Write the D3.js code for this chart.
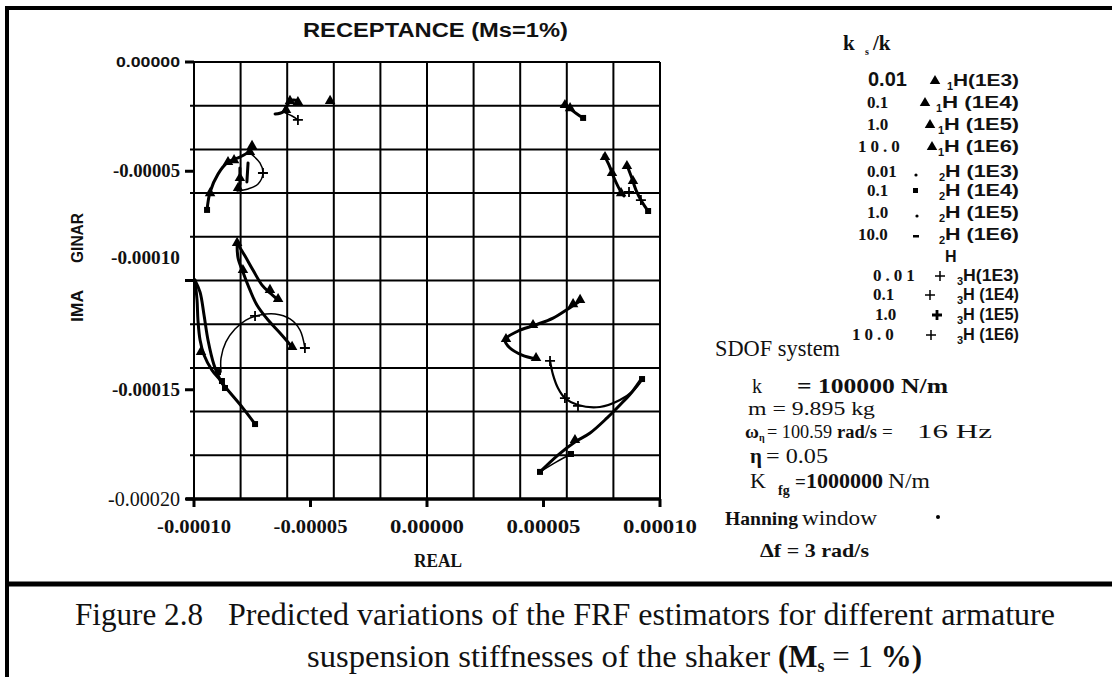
<!DOCTYPE html>
<html>
<head>
<meta charset="utf-8">
<script src="https://cdn.jsdelivr.net/npm/d3@7"></script>
<style>
  body { margin: 0; background: #fff; }
  svg { display: block; }
  text { fill: #111; }
</style>
</head>
<body>
<div id="chart"></div>
<script>
// Receptance (Ms=1%) - real vs imaginary part of the FRF estimators

// Axis ticks
const xTickValues = [-0.0001, -0.00005, 0, 0.00005, 0.0001];
const xTickLabels = ["-0.00010", "-0.00005", "0.00000", "0.00005", "0.00010"];
const yTickValues = [0, -0.00005, -0.0001, -0.00015, -0.0002];
const yTickLabels = ["0.00000", "-0.00005", "-0.00010", "-0.00015", "-0.00020"];

// Legend
const ratioLabels = ["0.01", "0.1", "1.0", "10.0"];
const estimators = ["1", "2", "3"];
const blockLabels = ["(1E3)", "(1E4)", "(1E5)", "(1E6)"];

// Curves, [real, imaginary]
const topLeftA = [[-6.52e-5, -2.38e-5], [-6.18e-5, -2.29e-5], [-5.97e-5, -1.92e-5], [-5.75e-5, -1.74e-5], [-5.54e-5, -1.78e-5]];
const topLeftB = [[-6.09e-5, -2.33e-5], [-5.79e-5, -2.47e-5], [-5.54e-5, -2.65e-5]];
const topRight = [[5.79e-5, -2.01e-5], [6.01e-5, -2.01e-5], [6.22e-5, -2.20e-5], [6.44e-5, -2.38e-5], [6.70e-5, -2.56e-5]];

const midLeftH1 = [[-9.44e-5, -6.77e-5], [-9.31e-5, -5.95e-5], [-8.97e-5, -5.13e-5], [-8.54e-5, -4.58e-5], [-8.03e-5, -4.35e-5], [-7.68e-5, -4.12e-5], [-7.51e-5, -3.84e-5]];
const midLeftH3 = [[-7.60e-5, -4.16e-5], [-7.17e-5, -4.62e-5], [-7.04e-5, -5.08e-5], [-7.25e-5, -5.58e-5], [-7.68e-5, -5.81e-5], [-8.15e-5, -5.90e-5]];
const midLeftStubA = [[-8.03e-5, -4.85e-5], [-8.03e-5, -5.58e-5]];
const midLeftStubB = [[-7.68e-5, -4.62e-5], [-7.73e-5, -5.49e-5]];

const lowLeftH1a = [[-8.15e-5, -8.28e-5], [-7.81e-5, -8.88e-5], [-7.47e-5, -9.52e-5], [-7.08e-5, -10.21e-5], [-6.74e-5, -10.57e-5], [-6.39e-5, -10.89e-5]];
const lowLeftH1b = [[-8.15e-5, -8.28e-5], [-8.11e-5, -8.97e-5], [-7.90e-5, -9.61e-5], [-7.60e-5, -10.43e-5], [-7.30e-5, -11.12e-5], [-6.82e-5, -11.81e-5], [-6.31e-5, -12.40e-5], [-5.79e-5, -13.04e-5]];
const lowLeftH3 = [[-5.24e-5, -13.09e-5], [-5.45e-5, -12.27e-5], [-5.88e-5, -11.76e-5], [-6.52e-5, -11.53e-5], [-7.17e-5, -11.58e-5], [-7.77e-5, -11.81e-5], [-8.24e-5, -12.22e-5], [-8.63e-5, -12.81e-5], [-8.84e-5, -13.55e-5], [-8.84e-5, -14.19e-5]];
const lowLeftH2a = [[-9.96e-5, -9.98e-5], [-9.87e-5, -10.89e-5], [-9.83e-5, -11.81e-5], [-9.74e-5, -12.72e-5], [-9.57e-5, -13.41e-5], [-9.23e-5, -14.10e-5], [-8.88e-5, -14.55e-5], [-8.67e-5, -14.92e-5]];
const lowLeftH2b = [[-9.96e-5, -9.98e-5], [-9.74e-5, -10.53e-5], [-9.57e-5, -11.58e-5], [-9.40e-5, -12.72e-5], [-9.14e-5, -13.87e-5], [-8.88e-5, -14.55e-5]];
const lowLeftTail = [[-8.80e-5, -14.69e-5], [-8.37e-5, -15.24e-5], [-7.90e-5, -15.84e-5], [-7.38e-5, -16.57e-5]];

const midRightA = [[7.60e-5, -4.26e-5], [7.81e-5, -4.71e-5], [8.03e-5, -5.31e-5], [8.28e-5, -5.86e-5], [8.45e-5, -6.13e-5]];
const midRightB = [[8.58e-5, -4.71e-5], [8.76e-5, -5.22e-5], [8.97e-5, -5.86e-5], [9.23e-5, -6.41e-5], [9.49e-5, -6.82e-5]];

const lowRightH1 = [[6.57e-5, -10.94e-5], [6.05e-5, -11.30e-5], [5.41e-5, -11.72e-5], [4.64e-5, -12.04e-5], [3.91e-5, -12.31e-5], [3.35e-5, -12.72e-5], [3.56e-5, -13.09e-5], [4.08e-5, -13.41e-5], [4.68e-5, -13.59e-5]];
const lowRightH3 = [[5.28e-5, -13.68e-5], [5.41e-5, -14.32e-5], [5.62e-5, -14.92e-5], [5.92e-5, -15.38e-5], [6.48e-5, -15.70e-5], [7.42e-5, -15.79e-5], [8.28e-5, -15.47e-5], [8.84e-5, -15.06e-5], [9.23e-5, -14.55e-5]];
const lowRightH2 = [[9.23e-5, -14.46e-5], [8.80e-5, -15.10e-5], [8.28e-5, -15.70e-5], [7.73e-5, -16.29e-5], [7.00e-5, -16.98e-5], [6.35e-5, -17.39e-5], [5.62e-5, -17.99e-5], [4.85e-5, -18.76e-5]];
const lowRightBack = [[4.85e-5, -18.76e-5], [5.54e-5, -18.31e-5], [6.18e-5, -17.94e-5]];

// Markers
const triangles = [[-5.88e-5, -1.78e-5], [-5.54e-5, -1.83e-5], [-6.05e-5, -2.20e-5], [-4.16e-5, -1.78e-5],
  [5.92e-5, -1.97e-5], [6.14e-5, -2.11e-5],
  [-9.31e-5, -6.00e-5], [-8.54e-5, -4.58e-5], [-8.28e-5, -4.49e-5], [-7.51e-5, -3.84e-5], [-7.60e-5, -4.12e-5], [-8.03e-5, -5.31e-5], [-8.11e-5, -5.77e-5],
  [-8.15e-5, -8.28e-5], [-7.90e-5, -9.52e-5], [-6.74e-5, -10.43e-5], [-6.39e-5, -10.85e-5], [-5.79e-5, -13.04e-5], [-9.70e-5, -13.27e-5],
  [7.64e-5, -4.35e-5], [7.94e-5, -5.08e-5], [8.33e-5, -6.00e-5], [8.58e-5, -4.76e-5], [8.84e-5, -5.45e-5],
  [6.57e-5, -10.89e-5], [6.27e-5, -11.08e-5], [4.55e-5, -12.04e-5], [4.68e-5, -13.55e-5], [3.39e-5, -12.68e-5], [6.35e-5, -17.30e-5]];
const squares = [[6.70e-5, -2.56e-5], [-9.44e-5, -6.77e-5], [-8.97e-5, -14.19e-5], [-8.80e-5, -14.60e-5], [-8.67e-5, -14.92e-5],
  [-7.38e-5, -16.57e-5], [9.49e-5, -6.82e-5], [4.85e-5, -18.76e-5], [6.18e-5, -17.94e-5], [9.23e-5, -14.51e-5]];
const pluses = [[-5.54e-5, -2.65e-5], [-7.04e-5, -5.08e-5], [-5.24e-5, -13.09e-5], [-7.38e-5, -11.62e-5],
  [8.67e-5, -5.95e-5], [9.18e-5, -6.32e-5], [5.28e-5, -13.68e-5], [5.92e-5, -15.38e-5], [6.48e-5, -15.74e-5]];

const thickCurves = [topLeftA, topRight, midLeftH1, midLeftStubA, midLeftStubB, lowLeftH1a, lowLeftH1b,
  lowLeftH2a, lowLeftH2b, lowLeftTail, midRightA, midRightB, lowRightH1, lowRightH2];
const thinCurves = [topLeftB, midLeftH3, lowLeftH3, lowRightBack];
const mediumCurves = [lowRightH3];

const W = 1112, H = 677;
const serif = "'Liberation Serif', 'Times New Roman', serif";
const sans = "'Liberation Sans', Arial, sans-serif";

const svg = d3.select("#chart").append("svg")
    .attr("width", W)
    .attr("height", H);

function addText(g, px, py, str, o) {
    const t = g.append("text")
        .attr("x", px)
        .attr("y", py)
        .attr("font-family", o.sans ? sans : serif)
        .attr("font-size", o.size)
        .attr("font-weight", o.bold ? "bold" : "normal")
        .attr("text-anchor", o.anchor || "start")
        .text(str);
    if (o.len) t.attr("textLength", o.len).attr("lengthAdjust", "spacingAndGlyphs");
    if (o.ls) t.attr("letter-spacing", o.ls);
    return t;
}

// Page frame
svg.append("line").attr("x1", 5).attr("x2", W).attr("y1", 8).attr("y2", 8).attr("stroke", "#000").attr("stroke-width", 4);
svg.append("line").attr("x1", 7).attr("x2", 7).attr("y1", 6).attr("y2", H).attr("stroke", "#000").attr("stroke-width", 4);
svg.append("line").attr("x1", 5).attr("x2", W).attr("y1", 584).attr("y2", 584).attr("stroke", "#000").attr("stroke-width", 5);

// Scales
const x = d3.scaleLinear().domain([-0.0001, 0.0001]).range([194, 660]);
const y = d3.scaleLinear().domain([-0.0002, 0]).range([499, 62]);

const plot = svg.append("g");

// Grid
plot.selectAll(".vgrid")
    .data(x.ticks(8))
    .join("line")
    .attr("class", "vgrid")
    .attr("x1", d => x(d)).attr("x2", d => x(d))
    .attr("y1", y.range()[1]).attr("y2", y.range()[0])
    .attr("stroke", "#000").attr("stroke-width", 2);

plot.selectAll(".hgrid")
    .data(y.ticks(8))
    .join("line")
    .attr("class", "hgrid")
    .attr("x1", x.range()[0] - 4).attr("x2", x.range()[1])
    .attr("y1", d => y(d)).attr("y2", d => y(d))
    .attr("stroke", "#000").attr("stroke-width", 2);

// Bottom axis
plot.append("line")
    .attr("x1", x.range()[0] - 8).attr("x2", x.range()[1] + 1)
    .attr("y1", y(-0.0002)).attr("y2", y(-0.0002))
    .attr("stroke", "#000").attr("stroke-width", 3.5);

plot.selectAll(".xtick")
    .data(xTickValues)
    .join("line")
    .attr("class", "xtick")
    .attr("x1", d => x(d)).attr("x2", d => x(d))
    .attr("y1", y(-0.0002)).attr("y2", y(-0.0002) + 8)
    .attr("stroke", "#000").attr("stroke-width", 3);

plot.selectAll(".ytick")
    .data(yTickValues)
    .join("line")
    .attr("class", "ytick")
    .attr("x1", x.range()[0] - 9).attr("x2", x.range()[0])
    .attr("y1", d => y(d)).attr("y2", d => y(d))
    .attr("stroke", "#000").attr("stroke-width", 3);

// Tick labels
const yLabelStyle = [
    { sans: true, bold: true, size: 15, len: 64, dy: 5 },
    { bold: true, size: 18, len: 67, dy: 6 },
    { bold: true, size: 18, len: 69, dy: -17 },
    { bold: true, size: 18, len: 68, dy: 6 },
    { bold: false, size: 20, len: 72, dy: 7 }
];
yTickValues.forEach((v, i) => {
    const s = yLabelStyle[i];
    addText(plot, 180, y(v) + s.dy, yTickLabels[i], Object.assign({ anchor: "end" }, s));
});

xTickValues.forEach((v, i) => {
    addText(plot, x(v), 533, xTickLabels[i], { bold: true, size: 19, anchor: "middle", len: 74 });
});

// Axis titles
addText(svg, 303, 37, "RECEPTANCE  (Ms=1%)", { sans: true, bold: true, size: 20, len: 265 });
addText(svg, 438, 567, "REAL", { bold: true, size: 18, anchor: "middle", len: 48 });
addText(svg, 0, 0, "GINAR", { sans: true, bold: true, size: 16, len: 50 })
    .attr("transform", "translate(83,263) rotate(-90)");
addText(svg, 0, 0, "IMA", { sans: true, bold: true, size: 16, len: 32 })
    .attr("transform", "translate(83,322) rotate(-90)");

// Curves
const line = d3.line()
    .x(d => x(d[0]))
    .y(d => y(d[1]))
    .curve(d3.curveCatmullRom.alpha(0.5));

const curveG = plot.append("g").attr("fill", "none").attr("stroke", "#000")
    .attr("stroke-linecap", "round").attr("stroke-linejoin", "round");
curveG.selectAll(".thick").data(thickCurves).join("path")
    .attr("class", "thick").attr("d", line).attr("stroke-width", 3);
curveG.selectAll(".medium").data(mediumCurves).join("path")
    .attr("class", "medium").attr("d", line).attr("stroke-width", 2.2);
curveG.selectAll(".thin").data(thinCurves).join("path")
    .attr("class", "thin").attr("d", line).attr("stroke-width", 1.5);

// Markers
const tri = d3.symbol(d3.symbolTriangle).size(48);
plot.selectAll(".tri").data(triangles).join("path")
    .attr("class", "tri")
    .attr("d", tri)
    .attr("transform", d => `translate(${x(d[0])},${y(d[1])})`)
    .attr("fill", "#000");

plot.selectAll(".sq").data(squares).join("rect")
    .attr("class", "sq")
    .attr("x", d => x(d[0]) - 3).attr("y", d => y(d[1]) - 3)
    .attr("width", 6).attr("height", 6)
    .attr("fill", "#000");

plot.selectAll(".plus").data(pluses).join("path")
    .attr("class", "plus")
    .attr("d", "M-5,0H5M0,-5V5")
    .attr("transform", d => `translate(${x(d[0])},${y(d[1])})`)
    .attr("stroke", "#000").attr("stroke-width", 1.8);

// Legend
const leg = svg.append("g");
addText(leg, 843, 50, "k", { bold: true, size: 21 });
addText(leg, 865, 55, "s", { bold: true, size: 10 });
addText(leg, 873, 50, "/k", { bold: true, size: 21 });

const rowY = [86, 108, 130, 152, 177, 196, 218, 240, 281, 300, 320, 340];
const labelX = [868, 867, 867, 858, 867, 867, 867, 858, 873, 873, 875, 852];
const markX = [935, 925, 930, 932, 916, 916, 917, 916, 940, 930, 937, 931];
const hX = [953, 942, 944, 944, 945, 945, 945, 945, 963, 963, 963, 963];

estimators.forEach((est, e) => {
    ratioLabels.forEach((r, j) => {
        const i = e * 4 + j;
        const ry = rowY[i];
        const spaced = (i === 3 || i === 8 || i === 11);
        if (i === 0) addText(leg, labelX[i], ry, r, { sans: true, bold: true, size: 20 });
        else addText(leg, labelX[i], ry, r, { bold: true, size: 17, ls: spaced ? 4 : null });

        if (e === 0) {
            leg.append("path").attr("d", tri)
                .attr("transform", `translate(${markX[i]},${ry - 5})`).attr("fill", "#000");
        } else if (e === 1) {
            if (j === 1) leg.append("rect").attr("x", markX[i] - 3).attr("y", ry - 8).attr("width", 5).attr("height", 5).attr("fill", "#000");
            else if (j === 3) leg.append("rect").attr("x", markX[i] - 3).attr("y", ry - 5).attr("width", 6).attr("height", 2.5).attr("fill", "#000");
            else leg.append("circle").attr("cx", markX[i]).attr("cy", ry - 2).attr("r", 1.6).attr("fill", "#000");
        } else {
            leg.append("path").attr("d", "M-5,0H5M0,-5V5")
                .attr("transform", `translate(${markX[i]},${ry - 5})`)
                .attr("stroke", "#000").attr("stroke-width", j === 2 ? 2.8 : 1.5);
        }

        addText(leg, hX[i] - 6, ry + 4, est, { sans: true, bold: true, size: 11 });
        const tight = (i === 0 || i === 8);
        addText(leg, hX[i], ry, "H" + (tight ? "" : " ") + blockLabels[j],
            { sans: true, bold: true, size: 16, len: 1019 - hX[i] });
    });
});
addText(leg, 945, 262, "H", { sans: true, bold: true, size: 16 });

// System description
const info = svg.append("g");
addText(info, 715, 356, "SDOF system", { size: 23, len: 125 });
addText(info, 752, 393, "k", { size: 20 });
addText(info, 797, 393, "= 100000 N/m", { bold: true, size: 20, len: 151 });
addText(info, 748, 415, "m = 9.895 kg", { size: 19, len: 127 });
addText(info, 745, 438, "ω", { bold: true, size: 19 });
addText(info, 759, 441, "η", { bold: true, size: 10 });
addText(info, 767, 438, "= 100.59", { size: 19, len: 65 });
addText(info, 837, 438, "rad/s", { bold: true, size: 18, len: 40 });
addText(info, 882, 438, "=", { size: 19 });
addText(info, 917, 438, "16 Hz", { size: 19, len: 75 });
addText(info, 750, 463, "η", { bold: true, size: 21 });
addText(info, 766, 463, "= 0.05", { size: 21, len: 62 });
addText(info, 750, 488, "K", { size: 22 });
addText(info, 778, 495, "fg", { bold: true, size: 14 });
addText(info, 795, 488, "=", { bold: true, size: 19 });
addText(info, 806, 488, "1000000", { bold: true, size: 21, len: 77 });
addText(info, 888, 488, "N/m", { size: 22, len: 42 });
addText(info, 725, 525, "Hanning", { bold: true, size: 19, len: 73 });
addText(info, 802, 525, "window", { size: 21, len: 75 });
info.append("circle").attr("cx", 938).attr("cy", 517).attr("r", 2).attr("fill", "#000");
addText(info, 760, 557, "Δf = 3 rad/s", { bold: true, size: 19, len: 109 });

// Caption
const cap = svg.append("g");
addText(cap, 75, 625, "Figure 2.8", { size: 31, len: 128 });
addText(cap, 228, 625, "Predicted variations of the FRF estimators for different armature", { size: 31, len: 827 });
addText(cap, 307, 667, "suspension stiffnesses of the shaker", { size: 31, len: 463 });
const paren = cap.append("text")
    .attr("x", 778).attr("y", 667)
    .attr("font-family", serif).attr("font-size", 31);
paren.append("tspan").attr("font-weight", "bold").text("(M");
paren.append("tspan").attr("font-weight", "bold").attr("font-size", 18).attr("dy", 5).text("s");
paren.append("tspan").attr("dy", -5).text(" = 1 ");
paren.append("tspan").attr("font-weight", "bold").text("%)");
</script>
</body>
</html>
